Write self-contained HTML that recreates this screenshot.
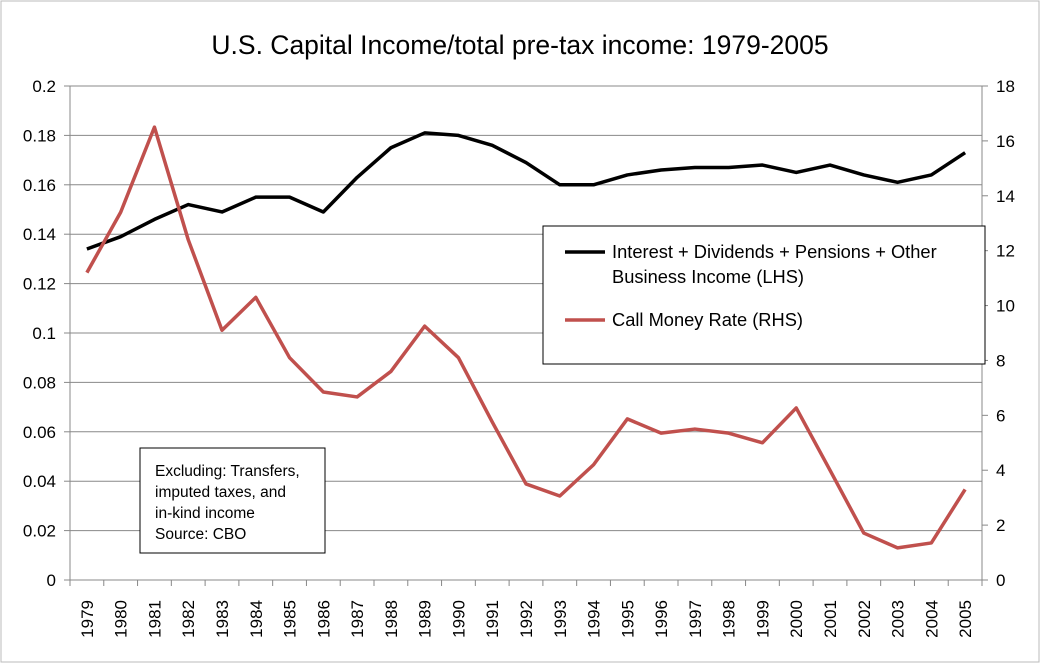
<!DOCTYPE html>
<html><head><meta charset="utf-8"><style>
body{margin:0;background:#fff}
svg{display:block;font-family:"Liberation Sans",sans-serif}
</style></head><body>
<svg id="c" width="1041" height="664">
<rect x="1" y="1" width="1038" height="661" fill="#fff" stroke="#bbb"/>
<text x="520" y="54" font-size="26.5" text-anchor="middle">U.S. Capital Income/total pre-tax income: 1979-2005</text>
<g id="grid"></g><g id="series"></g>
<g>
<rect x="543" y="226" width="442" height="138" fill="#fff" stroke="#000"/>
<line x1="565" y1="252" x2="605" y2="252" stroke="#000" stroke-width="3.5"/>
<text x="612" y="258" font-size="18.3">Interest + Dividends + Pensions + Other</text>
<text x="612" y="283" font-size="18.3">Business Income (LHS)</text>
<line x1="565" y1="320" x2="605" y2="320" stroke="#c0504d" stroke-width="3.5"/>
<text x="612" y="326" font-size="18.3">Call Money Rate (RHS)</text>
</g>
<g>
<rect x="140" y="448" width="185" height="105" fill="#fff" stroke="#000"/>
<text x="155" y="476" font-size="15.5">Excluding: Transfers,</text>
<text x="155" y="497" font-size="15.5">imputed taxes, and</text>
<text x="155" y="518" font-size="15.5"> in-kind income</text>
<text x="155" y="539" font-size="15.5">Source: CBO</text>
</g>
</svg>
<script>
const years=[1979,1980,1981,1982,1983,1984,1985,1986,1987,1988,1989,1990,1991,1992,1993,1994,1995,1996,1997,1998,1999,2000,2001,2002,2003,2004,2005];
const capitalShare=[0.134,0.139,0.146,0.152,0.149,0.155,0.155,0.149,0.163,0.175,0.181,0.180,0.176,0.169,0.160,0.160,0.164,0.166,0.167,0.167,0.168,0.165,0.168,0.164,0.161,0.164,0.173];
const callRate=[11.2,13.4,16.5,12.4,9.1,10.3,8.1,6.85,6.67,7.6,9.25,8.1,5.76,3.5,3.06,4.2,5.87,5.35,5.5,5.35,5.0,6.27,4.0,1.71,1.17,1.35,3.3];
const leftTicks=[0,0.02,0.04,0.06,0.08,0.1,0.12,0.14,0.16,0.18,0.2];
const rightTicks=[0,2,4,6,8,10,12,14,16,18];
const X0=70,X1=982,Y0=580,Y1=86,NS="http://www.w3.org/2000/svg";
const bw=(X1-X0)/years.length;
const xs=i=>X0+bw*(i+0.5);
const yl=v=>Y0-(v/0.2)*(Y0-Y1);
const yr=v=>Y0-(v/18)*(Y0-Y1);
function mk(t,a,p){const e=document.createElementNS(NS,t);for(const k in a)e.setAttribute(k,a[k]);p.appendChild(e);return e;}
const g=document.getElementById('grid');
leftTicks.forEach(v=>{const y=yl(v);
 if(v>0){const l=mk('line',{x1:X0,x2:X1,y1:y,y2:y,stroke:'#888','stroke-width':1},g);
 
 }
 mk('line',{x1:X0-6,x2:X0,y1:y,y2:y,stroke:'#888'},g);
 const t=mk('text',{x:X0-14,y:y+6,'font-size':17,'text-anchor':'end'},g);t.textContent=String(v);
 
 });
rightTicks.forEach(v=>{const y=yr(v);
 mk('line',{x1:X1,x2:X1+6,y1:y,y2:y,stroke:'#888'},g);
 const t=mk('text',{x:X1+14,y:y+6,'font-size':17},g);t.textContent=String(v);
 
 });
mk('line',{x1:X0,x2:X0,y1:Y1,y2:Y0,stroke:'#888'},g);
mk('line',{x1:X1,x2:X1,y1:Y1,y2:Y0,stroke:'#888'},g);
mk('line',{x1:X0,x2:X1,y1:Y0,y2:Y0,stroke:'#888'},g);
years.forEach((yv,i)=>{const x=X0+bw*i;
 mk('line',{x1:x,x2:x,y1:Y0,y2:Y0+6,stroke:'#888'},g);
 const cx=xs(i)+6;
 const t=mk('text',{x:cx,y:600,'font-size':17,'text-anchor':'end',transform:`rotate(-90 ${cx} 600)`},g);t.textContent=yv;
 
 });
mk('line',{x1:X1,x2:X1,y1:Y0,y2:Y0+6,stroke:'#888'},g);
const s=document.getElementById('series');
const p1=mk('polyline',{points:capitalShare.map((v,i)=>xs(i)+','+yl(v)).join(' '),fill:'none',stroke:'#000','stroke-width':3.5,'stroke-linejoin':'round'},s);


const p2=mk('polyline',{points:callRate.map((v,i)=>xs(i)+','+yr(v)).join(' '),fill:'none',stroke:'#c0504d','stroke-width':3.5,'stroke-linejoin':'round'},s);


</script>
</body></html>
